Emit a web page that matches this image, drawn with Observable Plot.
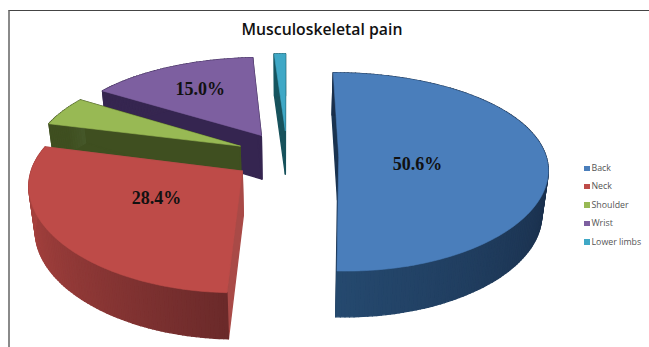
<!DOCTYPE html>
<html>
<head>
<meta charset="utf-8">
<script src="https://cdn.jsdelivr.net/npm/d3@7"></script>
<script src="https://cdn.jsdelivr.net/npm/@observablehq/plot@0.6"></script>
<style>
  html, body { margin: 0; padding: 0; background: #fff; }
  #chart { position: relative; width: 649px; height: 347px; overflow: hidden; }
  #frame { position: absolute; left: 8px; top: 10px; right: -4px; bottom: -4px;
           border-top: 1.5px solid #444; border-left: 2px solid #8a8a8a; }
  #title { position: absolute; left: 0; top: 18px; width: 644px; text-align: center;
           font: 600 15.8px "Open Sans", sans-serif; color: #111; }
  #legend { position: absolute; left: 584px; top: 161px; margin: 0; padding: 0; list-style: none;
            font: 8.8px "Open Sans", sans-serif; color: #555; }
  #legend li { height: 18.4px; line-height: 14px; white-space: nowrap; }
  #legend i { display: inline-block; width: 5.5px; height: 5.5px; margin-right: 2px; }
  svg { position: absolute; left: 0; top: 0; }
</style>
</head>
<body>
<div id="chart">
  <div id="frame"></div>
  <div id="title">Musculoskeletal pain</div>
  <ul id="legend"></ul>
</div>
<script>
// Share of respondents by pain site, in percent
const sites = ["Back", "Neck", "Shoulder", "Wrist", "Lower limbs"];
const shares = [50.6, 28.4, 5.0, 15.0, 1.0];
const labelled = [true, true, false, true, false];

// Colours per slice: top face, outer wall at the start and end of the slice, flat cut wall
const topColors = ["#4a7ebb", "#be4b48", "#98b954", "#7d5fa0", "#3fa8c6"];
const wallFrom = ["#1a2f4b", "#6b2a2a", "#3f4f20", "#362650", "#155560"];
const wallTo = ["#25496f", "#a8423f", "#46582a", "#3a2a58", "#155560"];
const cutColors = ["#1a3350", "#a94a47", "#3f4f20", "#352550", "#17525c"];

// Radial placement of the percentage labels, as a fraction of the radius
const labelRadius = [0.38, 0.48, 0, 0.65, 0];
const labelDrop = [8, -4, 0, 0, 0];

// Pie camera: a simple perspective on the tilted disc
const W = 649, H = 347;
const cx = 286.5, cy = 155, scaleX = 207, scaleY = 96.4;
const perspX = 0.12, perspY = 0.161;
const explode = [0.25, 0.265, 0.25, 0.25, 0.27];
const wallHeight = 44, wallPersp = 0.04, wallShrink = 0.975;

const project = (X, Y) => ({
  x: cx + scaleX * X / (1 - perspX * Y),
  y: cy + scaleY * Y / (1 - perspY * Y)
});
const lower = (p, Y) => ({
  x: cx + (p.x - cx) * wallShrink,
  y: p.y + wallHeight / (1 - wallPersp * Y)
});

// Angular extent of each slice, clockwise from twelve o'clock
const total = d3.sum(shares);
let running = 0;
const slices = shares.map((v, i) => {
  const a0 = running / total * 2 * Math.PI;
  running += v;
  const a1 = running / total * 2 * Math.PI;
  const mid = (a0 + a1) / 2;
  return {i, a0, a1, mid, ox: explode[i] * Math.sin(mid), oy: -explode[i] * Math.cos(mid)};
});

const rimPoint = (s, a) => [s.ox + Math.sin(a), s.oy - Math.cos(a)];
const facePoints = s => {
  const n = Math.max(2, Math.ceil((s.a1 - s.a0) / 0.02));
  return d3.range(n + 1).map(k => rimPoint(s, s.a0 + (s.a1 - s.a0) * k / n));
};

// Quad hanging below a top-face edge, used for cut walls and rim strips
const wallQuad = (a, b, part, color) => {
  const pa = project(...a), pb = project(...b);
  const qa = lower(pa, a[1]), qb = lower(pb, b[1]);
  return [pa, pb, qb, qa, pa].map(p => ({...p, part, color}));
};

const sliceMarks = s => {
  const centre = [s.ox, s.oy];
  const rim = facePoints(s);
  const rows = [
    ...wallQuad(centre, rim[0], "cut0", cutColors[s.i]),
    ...wallQuad(centre, rim[rim.length - 1], "cut1", cutColors[s.i])
  ];
  const shade = d3.interpolateLab(wallFrom[s.i], wallTo[s.i]);
  const strips = d3.pairs(rim).flatMap(([a, b], k) => {
    const t = k / (rim.length - 1);
    // Back and Neck run from the side of the disc toward the camera, in opposite senses
    const tone = s.i === 1 ? shade(d3.easeSinOut(t)) : shade(t < 0.55 ? 0 : (t - 0.55) / 0.45);
    return wallQuad(a, b, "rim" + k, tone);
  });
  const face = [centre, ...rim, centre].map(p => ({...project(...p), part: "face", color: topColors[s.i]}));
  const style = {x: "x", y: "y", z: "part", fill: "color", curve: "linear"};
  return [
    Plot.line([...rows, ...strips], {...style, stroke: "color", strokeWidth: 1.4}),
    Plot.line(face, {...style, stroke: "color", strokeWidth: 0.6})
  ];
};

// Back-to-front painting order
const order = [4, 3, 2, 1, 0];

const labelRows = slices.filter(s => labelled[s.i]).map(s => {
  const r = labelRadius[s.i];
  const p = project(s.ox + r * Math.sin(s.mid), s.oy - r * Math.cos(s.mid));
  return {x: p.x, y: p.y + labelDrop[s.i], text: shares[s.i].toFixed(1) + "%"};
});

const plot = Plot.plot({
  width: W, height: H, margin: 0,
  style: {background: "transparent"},
  x: {domain: [0, W], range: [0, W], axis: null},
  y: {domain: [0, H], range: [0, H], axis: null},
  color: {type: "identity"},
  marks: [
    ...order.flatMap(i => sliceMarks(slices[i])),
    Plot.text(labelRows, {
      x: "x", y: "y", text: "text",
      fontFamily: "Liberation Serif", fontWeight: "bold", fontSize: 18, fill: "#111"
    })
  ]
});
document.getElementById("chart").append(plot);

d3.select("#legend").selectAll("li").data(sites).join("li")
  .html((d, i) => `<i style="background:${topColors[i]}"></i>${d}`);
</script>
</body>
</html>
